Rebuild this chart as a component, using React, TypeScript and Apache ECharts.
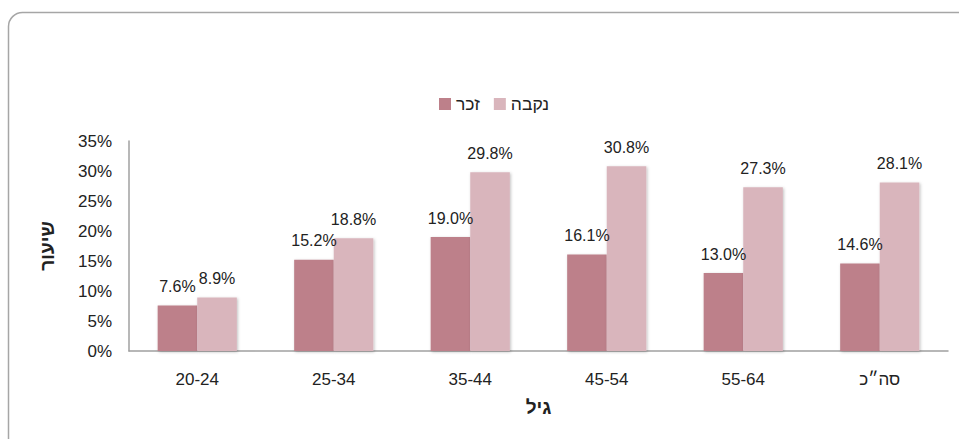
import React, { useEffect, useRef } from "react";
import * as echarts from "echarts";

const categories = ["20-24", "25-34", "35-44", "45-54", "55-64", "סה״כ"];
const maleValues = [7.6, 15.2, 19.0, 16.1, 13.0, 14.6];
const femaleValues = [8.9, 18.8, 29.8, 30.8, 27.3, 28.1];
const seriesNames = ["זכר", "נקבה"];
const yTicks = [0, 5, 10, 15, 20, 25, 30, 35];

const FONT = "'Liberation Sans', Arial, sans-serif";

export default function App() {
  const ref = useRef<HTMLDivElement>(null);
  useEffect(() => {
    if (!ref.current) return;
    const chart = echarts.init(ref.current, null, { renderer: "svg" });
    const labelCfg = {
      show: true,
      position: "top",
      distance: 11,
      formatter: (p: any) => p.value.toFixed(1) + "%",
      color: "#222",
      fontSize: 16,
      fontFamily: FONT,
    };
    chart.setOption({
      animation: false,
      textStyle: { fontFamily: FONT },
      graphic: [
        {
          type: "rect",
          shape: { x: 8.5, y: 12.5, width: 980, height: 460, r: 14 },
          style: { fill: "none", stroke: "#a6a6a6", lineWidth: 1.5 },
          silent: true,
          z: -1,
        },
      ],
      legend: {
        top: 90,
        left: 434,
        itemWidth: 12,
        itemHeight: 12,
        itemGap: 14,
        itemStyle: { borderWidth: 0 },
        icon: "rect",
        textStyle: { fontSize: 17.5, color: "#222", fontFamily: FONT },
        data: seriesNames,
      },
      grid: { left: 129, right: 11, top: 141, bottom: 88 },
      xAxis: {
        type: "category",
        data: categories,
        name: "גיל",
        nameLocation: "middle",
        nameGap: 47,
        nameTextStyle: { fontSize: 19, fontWeight: "bold", color: "#222", fontFamily: FONT },
        axisLine: { lineStyle: { color: "#a0a0a0", width: 1.5 } },
        axisTick: { show: false },
        axisLabel: { fontSize: 17, color: "#222", margin: 20, fontFamily: FONT },
      },
      yAxis: {
        type: "value",
        min: 0,
        max: 35,
        interval: 5,
        name: "שיעור",
        nameLocation: "middle",
        nameGap: 72,
        nameRotate: 90,
        nameTextStyle: { fontSize: 19, fontWeight: "bold", color: "#222", fontFamily: FONT },
        axisLine: { show: true, lineStyle: { color: "#a0a0a0", width: 1.5 } },
        axisTick: { show: false },
        splitLine: { show: false },
        axisLabel: {
          fontSize: 17,
          color: "#222",
          margin: 17,
          fontFamily: FONT,
          formatter: (v: number) => (yTicks.includes(v) ? v + "%" : ""),
        },
      },
      series: [
        {
          name: seriesNames[0],
          type: "bar",
          data: maleValues,
          barGap: "0%",
          barCategoryGap: "42%",
          itemStyle: {
            color: "#bd808a",
            shadowColor: "rgba(0,0,0,0.25)",
            shadowBlur: 3,
            shadowOffsetX: 1,
            shadowOffsetY: 1,
          },
          label: labelCfg,
        },
        {
          name: seriesNames[1],
          type: "bar",
          data: femaleValues,
          itemStyle: {
            color: "#d9b5bc",
            shadowColor: "rgba(0,0,0,0.25)",
            shadowBlur: 3,
            shadowOffsetX: 1,
            shadowOffsetY: 1,
          },
          label: labelCfg,
        },
      ],
    });
    return () => chart.dispose();
  }, []);
  return (
    <div
      ref={ref}
      style={{ width: 959, height: 439, position: "absolute", left: 0, top: 0, background: "#fff" }}
    />
  );
}
